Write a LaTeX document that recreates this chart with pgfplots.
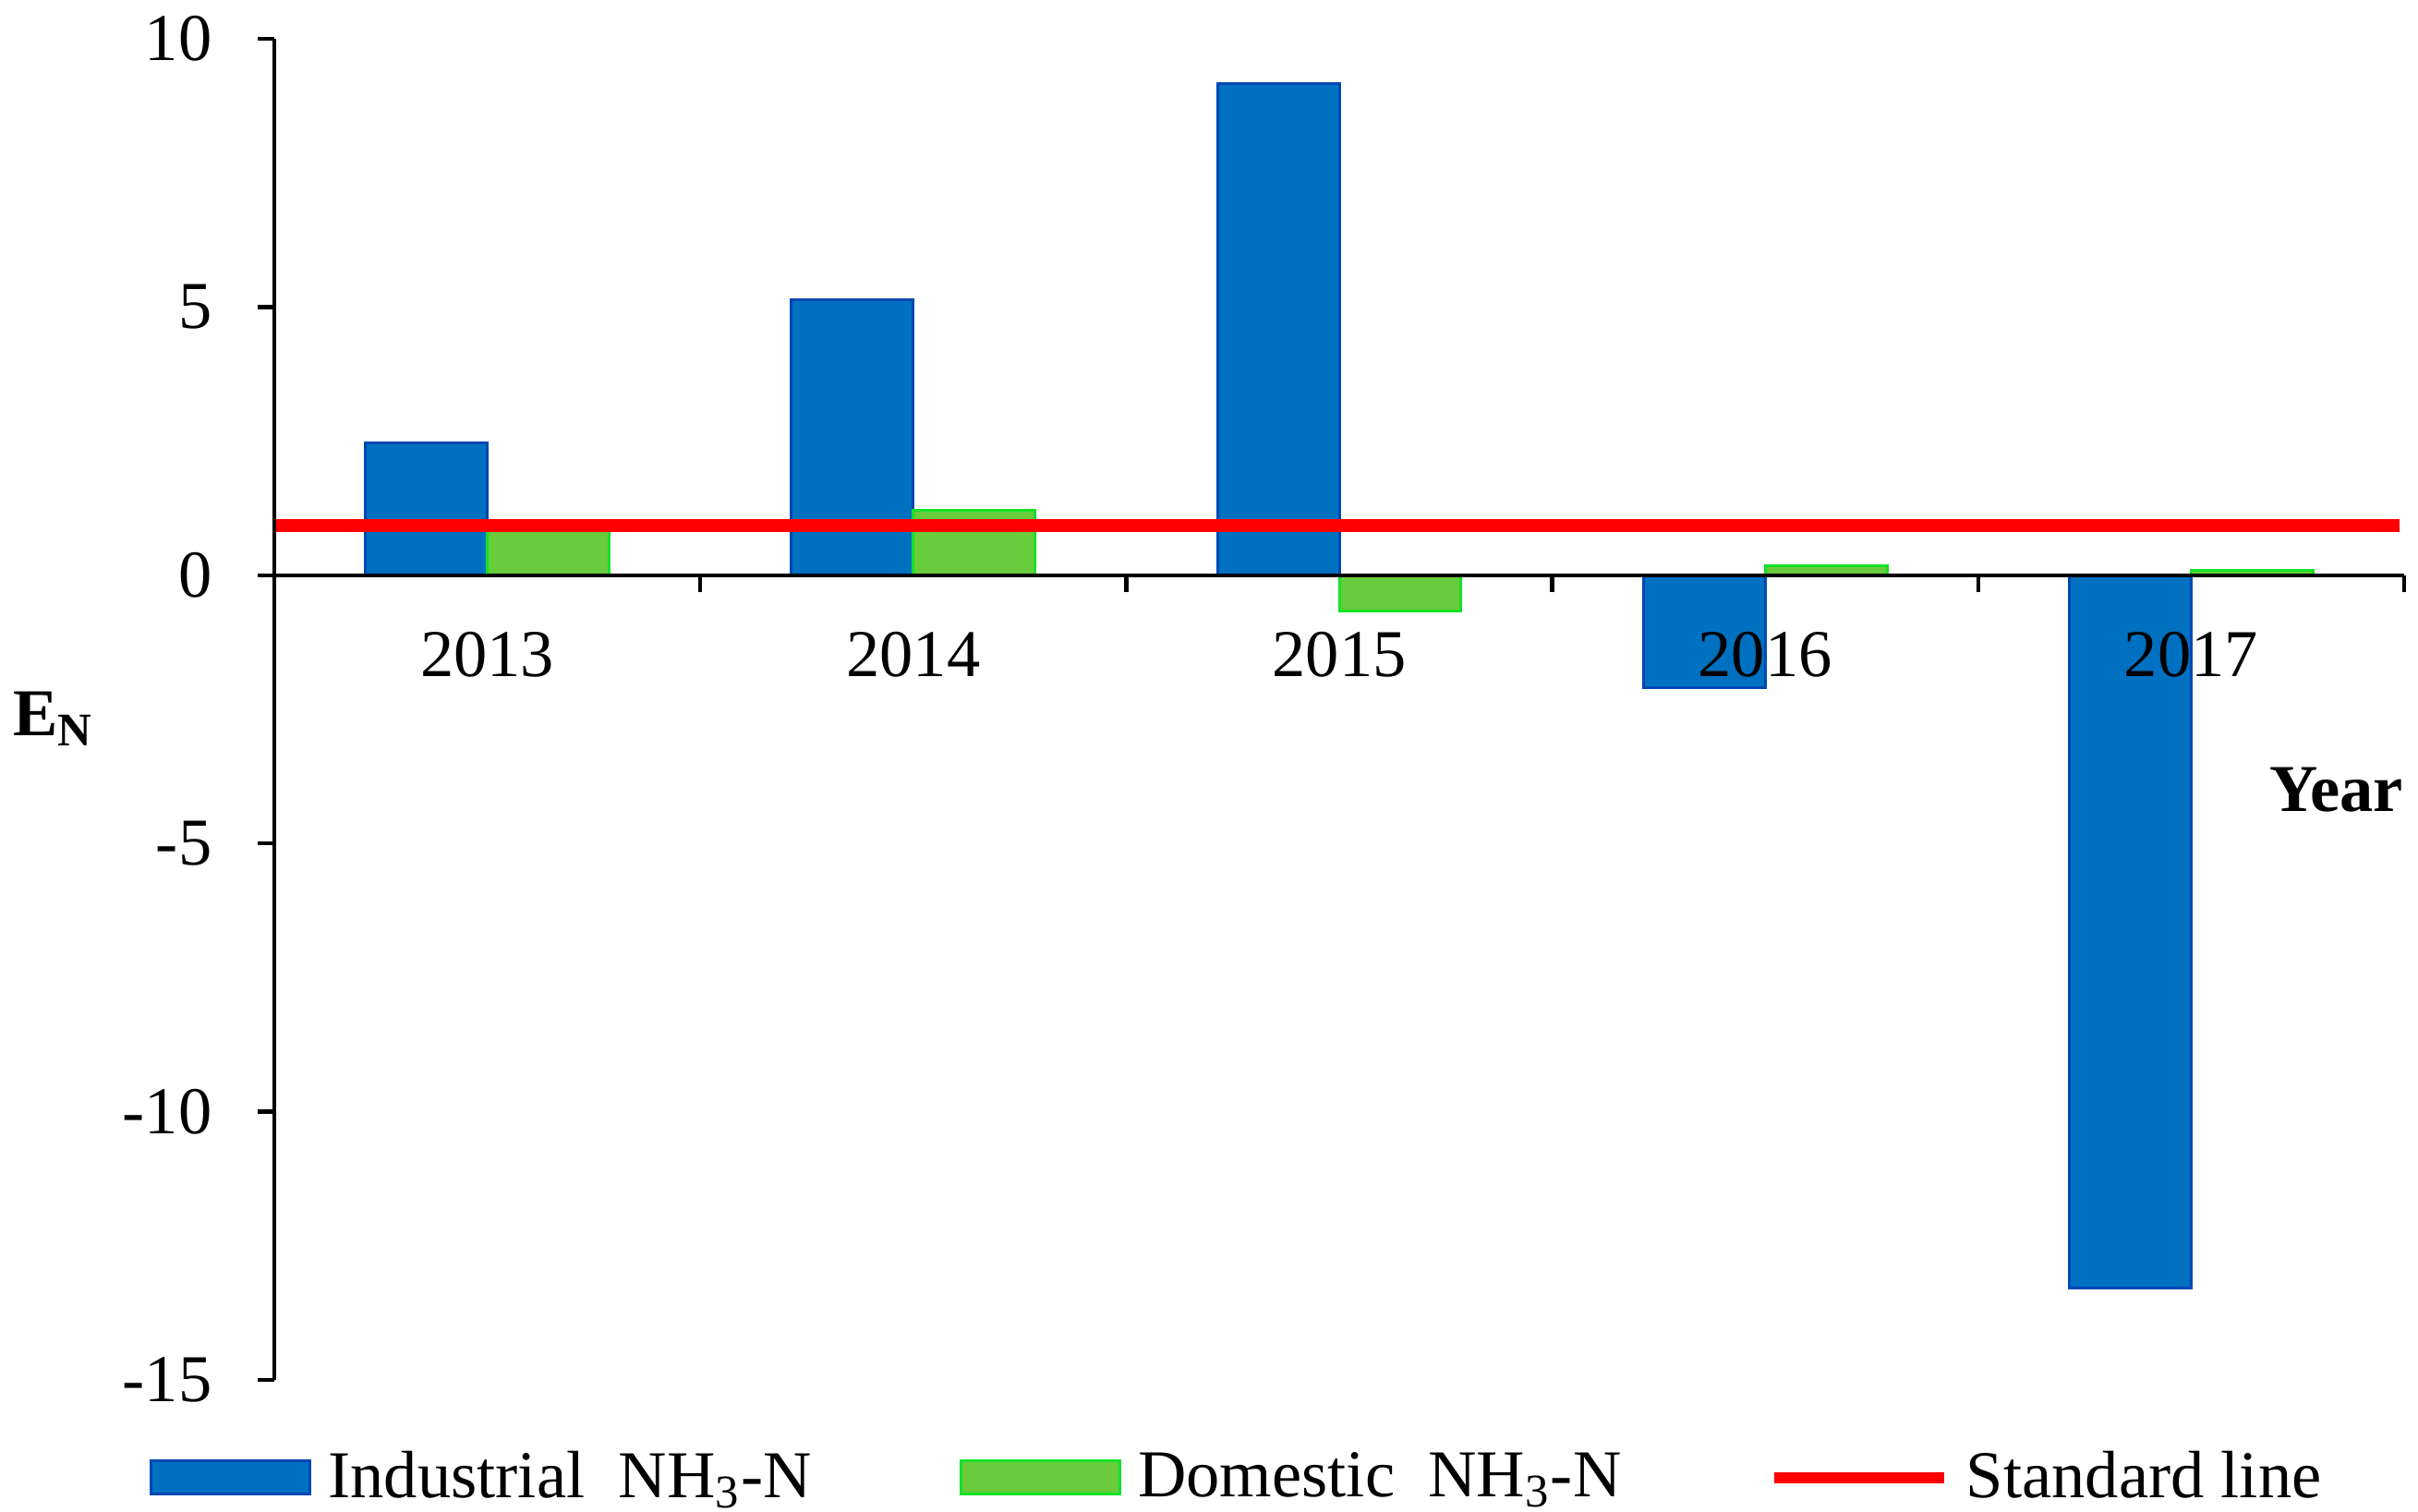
\documentclass[border=0pt]{standalone}
\usepackage{fontspec}
\setmainfont{Liberation Serif}
\usepackage{pgfplots}
\pgfplotsset{compat=1.18}
\definecolor{barblue}{RGB}{0,112,192}
\definecolor{barblueedge}{RGB}{0,72,180}
\definecolor{bargreen}{RGB}{104,204,60}
\definecolor{bargreenedge}{RGB}{20,225,40}
\definecolor{stdred}{RGB}{255,0,0}
\pgfplotsset{
  mybarlegend/.style={legend image code/.code={\draw[##1] (0pt,-3.6pt) rectangle (34.4pt,3.6pt);}},
  mylinelegend/.style={legend image code/.code={\draw[##1, line width=2.4pt] (0pt,0pt) -- (36.6pt,0pt);}},
}
\begin{document}
\begin{tikzpicture}
\begin{axis}[
  scale only axis,
  width=461.2pt, height=290.4pt,
  xmin=-0.5, xmax=4.5,
  ymin=-15, ymax=10,
  axis y line*=left,
  axis x line*=middle,
  hide obscured x ticks=false,
  hide obscured y ticks=false,
  axis line style={line width=0.9pt, black},
  every tick/.style={line width=0.9pt, black},
  tick align=outside,
  major tick length=3.6pt,
  xtick={0.5,1.5,2.5,3.5,4.5},
  xticklabels={},
  extra x ticks={0,1,2,3,4},
  extra x tick labels={2013,2014,2015,2016,2017},
  extra x tick style={major tick length=0pt, xticklabel style={yshift=-8.8pt}},
  ytick={-15,-10,-5,0,5,10},
  yticklabels={-15,-10,-5,0,5,10},
  every tick label/.append style={font=\fontsize{14.5}{17}\selectfont},
  yticklabel style={xshift=-6.4pt},
  axis on top,
  ylabel={\textbf{E\textsubscript{N}}},
  ylabel style={rotate=-90, at={(axis description cs:-0.1035,0.493)}, anchor=center, font=\fontsize{14.5}{17}\selectfont},
  xlabel={\textbf{Year}},
  xlabel style={at={(axis description cs:1,0.44)}, anchor=east, inner sep=0pt, font=\fontsize{14.5}{17}\selectfont},
  legend style={at={(axis description cs:-0.0585,-0.073)}, anchor=west, draw=none, fill=none,
    inner sep=0pt, outer sep=0pt, legend columns=3,
    font=\fontsize{14.5}{17}\selectfont,
    nodes={inner sep=2pt},
    /tikz/every even column/.append style={column sep=30pt},
    /tikz/every odd column/.append style={column sep=1.7pt}},
  legend cell align=left,
]
\addplot[ybar, bar width=0.286, bar shift=-0.143, fill=barblue, draw=barblueedge, line width=0.6pt, mybarlegend]
  coordinates {(0,2.46) (1,5.14) (2,9.16) (3,-2.10) (4,-13.29)};
\addlegendentry{Industrial\ \ NH\textsubscript{3}-N}
\addplot[ybar, bar width=0.286, bar shift=0.143, fill=bargreen, draw=bargreenedge, line width=0.6pt, mybarlegend]
  coordinates {(0,0.85) (1,1.21) (2,-0.67) (3,0.18) (4,0.09)};
\addlegendentry{Domestic\ \ NH\textsubscript{3}-N}
\addplot[stdred, line width=2.8pt, mark=none, mylinelegend]
  coordinates {(-0.5,0.93) (4.49,0.93)};
\addlegendentry{Standard line}
\end{axis}
\pgfresetboundingbox
\path ([shift={(-59.4pt,-28.6pt)}]current axis.south west) rectangle ([shift={(3pt,8.4pt)}]current axis.north east);
\end{tikzpicture}
\end{document}
